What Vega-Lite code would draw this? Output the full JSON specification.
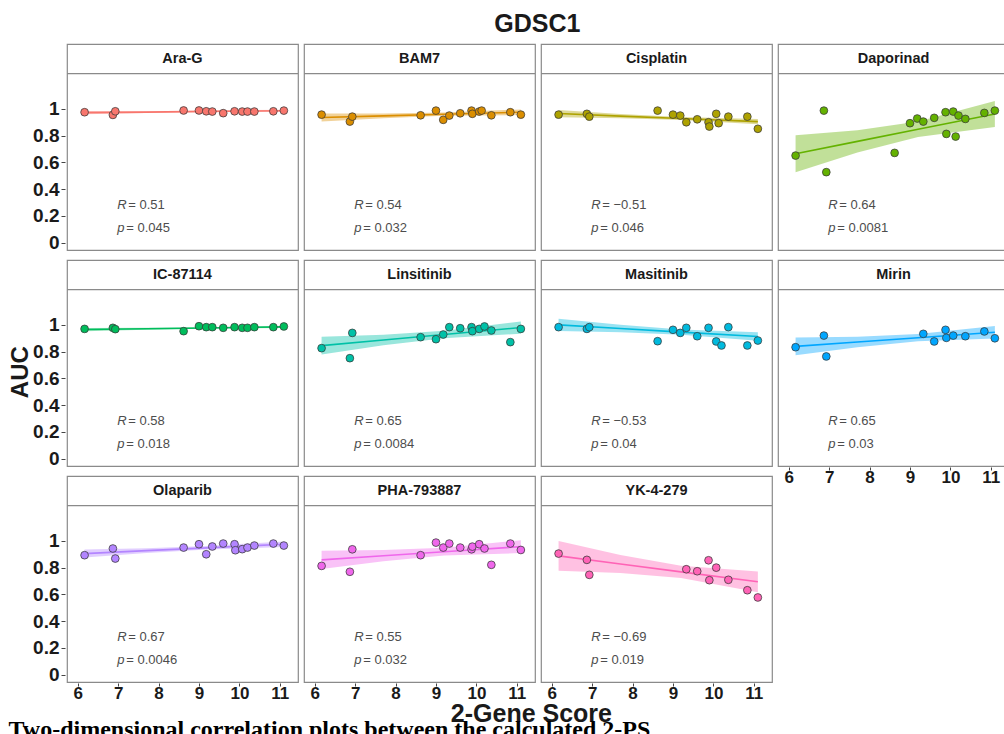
{
  "$schema": "https://vega.github.io/schema/vega-lite/v6.json",
  "background": "white",
  "padding": {"left": 8, "top": 12, "right": 0, "bottom": 0},
  "config": {
    "font": "Liberation Sans",
    "view": {"stroke": "#8a8a8a", "strokeWidth": 1.2},
    "axis": {"grid": false, "domain": false, "tickColor": "#444", "tickSize": 4, "labelFont": "Liberation Sans", "labelFontWeight": "bold", "labelColor": "#1a1a1a", "labelPadding": 2},
    "axisX": {"labelFontSize": 17, "tickSize": 3, "labelPadding": -1},
    "axisY": {"labelFontSize": 19},
    "concat": {"spacing": 6}
  },
  "datasets": {
    "d": [
      {"drug": "Ara-G", "kind": "pt", "score": 6.17, "auc": 0.975},
      {"drug": "Ara-G", "kind": "pt", "score": 6.87, "auc": 0.955},
      {"drug": "Ara-G", "kind": "pt", "score": 6.93, "auc": 0.982},
      {"drug": "Ara-G", "kind": "pt", "score": 8.62, "auc": 0.988},
      {"drug": "Ara-G", "kind": "pt", "score": 9.0, "auc": 0.988},
      {"drug": "Ara-G", "kind": "pt", "score": 9.18, "auc": 0.982},
      {"drug": "Ara-G", "kind": "pt", "score": 9.33, "auc": 0.98},
      {"drug": "Ara-G", "kind": "pt", "score": 9.6, "auc": 0.968},
      {"drug": "Ara-G", "kind": "pt", "score": 9.88, "auc": 0.982},
      {"drug": "Ara-G", "kind": "pt", "score": 10.07, "auc": 0.98},
      {"drug": "Ara-G", "kind": "pt", "score": 10.2, "auc": 0.98},
      {"drug": "Ara-G", "kind": "pt", "score": 10.37, "auc": 0.98},
      {"drug": "Ara-G", "kind": "pt", "score": 10.84, "auc": 0.982},
      {"drug": "Ara-G", "kind": "pt", "score": 11.1, "auc": 0.987},
      {"drug": "BAM7", "kind": "pt", "score": 6.17, "auc": 0.957},
      {"drug": "BAM7", "kind": "pt", "score": 6.87, "auc": 0.905},
      {"drug": "BAM7", "kind": "pt", "score": 6.93, "auc": 0.942},
      {"drug": "BAM7", "kind": "pt", "score": 8.62, "auc": 0.952},
      {"drug": "BAM7", "kind": "pt", "score": 9.0, "auc": 0.987},
      {"drug": "BAM7", "kind": "pt", "score": 9.18, "auc": 0.918},
      {"drug": "BAM7", "kind": "pt", "score": 9.33, "auc": 0.95},
      {"drug": "BAM7", "kind": "pt", "score": 9.6, "auc": 0.967},
      {"drug": "BAM7", "kind": "pt", "score": 9.88, "auc": 0.987},
      {"drug": "BAM7", "kind": "pt", "score": 9.9, "auc": 0.963},
      {"drug": "BAM7", "kind": "pt", "score": 10.07, "auc": 0.98},
      {"drug": "BAM7", "kind": "pt", "score": 10.13, "auc": 0.987},
      {"drug": "BAM7", "kind": "pt", "score": 10.37, "auc": 0.952},
      {"drug": "BAM7", "kind": "pt", "score": 10.84, "auc": 0.975},
      {"drug": "BAM7", "kind": "pt", "score": 11.1, "auc": 0.957},
      {"drug": "Cisplatin", "kind": "pt", "score": 6.17, "auc": 0.957},
      {"drug": "Cisplatin", "kind": "pt", "score": 6.87, "auc": 0.963},
      {"drug": "Cisplatin", "kind": "pt", "score": 6.93, "auc": 0.942},
      {"drug": "Cisplatin", "kind": "pt", "score": 8.62, "auc": 0.987},
      {"drug": "Cisplatin", "kind": "pt", "score": 9.0, "auc": 0.957},
      {"drug": "Cisplatin", "kind": "pt", "score": 9.18, "auc": 0.95},
      {"drug": "Cisplatin", "kind": "pt", "score": 9.33, "auc": 0.9},
      {"drug": "Cisplatin", "kind": "pt", "score": 9.6, "auc": 0.922},
      {"drug": "Cisplatin", "kind": "pt", "score": 9.88, "auc": 0.9},
      {"drug": "Cisplatin", "kind": "pt", "score": 9.9, "auc": 0.868},
      {"drug": "Cisplatin", "kind": "pt", "score": 10.07, "auc": 0.963},
      {"drug": "Cisplatin", "kind": "pt", "score": 10.13, "auc": 0.893},
      {"drug": "Cisplatin", "kind": "pt", "score": 10.37, "auc": 0.942},
      {"drug": "Cisplatin", "kind": "pt", "score": 10.84, "auc": 0.942},
      {"drug": "Cisplatin", "kind": "pt", "score": 11.1, "auc": 0.851},
      {"drug": "Daporinad", "kind": "pt", "score": 6.17, "auc": 0.651},
      {"drug": "Daporinad", "kind": "pt", "score": 6.87, "auc": 0.987},
      {"drug": "Daporinad", "kind": "pt", "score": 6.93, "auc": 0.527},
      {"drug": "Daporinad", "kind": "pt", "score": 8.62, "auc": 0.671},
      {"drug": "Daporinad", "kind": "pt", "score": 9.0, "auc": 0.893},
      {"drug": "Daporinad", "kind": "pt", "score": 9.18, "auc": 0.928},
      {"drug": "Daporinad", "kind": "pt", "score": 9.33, "auc": 0.905},
      {"drug": "Daporinad", "kind": "pt", "score": 9.6, "auc": 0.933},
      {"drug": "Daporinad", "kind": "pt", "score": 9.88, "auc": 0.975},
      {"drug": "Daporinad", "kind": "pt", "score": 9.9, "auc": 0.813},
      {"drug": "Daporinad", "kind": "pt", "score": 10.07, "auc": 0.98},
      {"drug": "Daporinad", "kind": "pt", "score": 10.13, "auc": 0.793},
      {"drug": "Daporinad", "kind": "pt", "score": 10.2, "auc": 0.95},
      {"drug": "Daporinad", "kind": "pt", "score": 10.37, "auc": 0.925},
      {"drug": "Daporinad", "kind": "pt", "score": 10.84, "auc": 0.97},
      {"drug": "Daporinad", "kind": "pt", "score": 11.1, "auc": 0.987},
      {"drug": "IC-87114", "kind": "pt", "score": 6.17, "auc": 0.97},
      {"drug": "IC-87114", "kind": "pt", "score": 6.87, "auc": 0.978},
      {"drug": "IC-87114", "kind": "pt", "score": 6.93, "auc": 0.968},
      {"drug": "IC-87114", "kind": "pt", "score": 8.62, "auc": 0.953},
      {"drug": "IC-87114", "kind": "pt", "score": 9.0, "auc": 0.99},
      {"drug": "IC-87114", "kind": "pt", "score": 9.18, "auc": 0.983},
      {"drug": "IC-87114", "kind": "pt", "score": 9.33, "auc": 0.983},
      {"drug": "IC-87114", "kind": "pt", "score": 9.6, "auc": 0.978},
      {"drug": "IC-87114", "kind": "pt", "score": 9.88, "auc": 0.983},
      {"drug": "IC-87114", "kind": "pt", "score": 10.07, "auc": 0.978},
      {"drug": "IC-87114", "kind": "pt", "score": 10.2, "auc": 0.978},
      {"drug": "IC-87114", "kind": "pt", "score": 10.37, "auc": 0.983},
      {"drug": "IC-87114", "kind": "pt", "score": 10.84, "auc": 0.983},
      {"drug": "IC-87114", "kind": "pt", "score": 11.1, "auc": 0.988},
      {"drug": "Linsitinib", "kind": "pt", "score": 6.17, "auc": 0.826},
      {"drug": "Linsitinib", "kind": "pt", "score": 6.87, "auc": 0.751},
      {"drug": "Linsitinib", "kind": "pt", "score": 6.93, "auc": 0.94},
      {"drug": "Linsitinib", "kind": "pt", "score": 8.62, "auc": 0.908},
      {"drug": "Linsitinib", "kind": "pt", "score": 9.0, "auc": 0.893},
      {"drug": "Linsitinib", "kind": "pt", "score": 9.18, "auc": 0.928},
      {"drug": "Linsitinib", "kind": "pt", "score": 9.33, "auc": 0.983},
      {"drug": "Linsitinib", "kind": "pt", "score": 9.6, "auc": 0.975},
      {"drug": "Linsitinib", "kind": "pt", "score": 9.88, "auc": 0.983},
      {"drug": "Linsitinib", "kind": "pt", "score": 9.9, "auc": 0.953},
      {"drug": "Linsitinib", "kind": "pt", "score": 10.07, "auc": 0.97},
      {"drug": "Linsitinib", "kind": "pt", "score": 10.2, "auc": 0.988},
      {"drug": "Linsitinib", "kind": "pt", "score": 10.37, "auc": 0.958},
      {"drug": "Linsitinib", "kind": "pt", "score": 10.84, "auc": 0.871},
      {"drug": "Linsitinib", "kind": "pt", "score": 11.1, "auc": 0.97},
      {"drug": "Masitinib", "kind": "pt", "score": 6.17, "auc": 0.983},
      {"drug": "Masitinib", "kind": "pt", "score": 6.87, "auc": 0.97},
      {"drug": "Masitinib", "kind": "pt", "score": 6.93, "auc": 0.983},
      {"drug": "Masitinib", "kind": "pt", "score": 8.62, "auc": 0.878},
      {"drug": "Masitinib", "kind": "pt", "score": 9.0, "auc": 0.963},
      {"drug": "Masitinib", "kind": "pt", "score": 9.18, "auc": 0.94},
      {"drug": "Masitinib", "kind": "pt", "score": 9.33, "auc": 0.978},
      {"drug": "Masitinib", "kind": "pt", "score": 9.6, "auc": 0.915},
      {"drug": "Masitinib", "kind": "pt", "score": 9.88, "auc": 0.978},
      {"drug": "Masitinib", "kind": "pt", "score": 10.07, "auc": 0.876},
      {"drug": "Masitinib", "kind": "pt", "score": 10.2, "auc": 0.846},
      {"drug": "Masitinib", "kind": "pt", "score": 10.37, "auc": 0.983},
      {"drug": "Masitinib", "kind": "pt", "score": 10.84, "auc": 0.846},
      {"drug": "Masitinib", "kind": "pt", "score": 11.1, "auc": 0.883},
      {"drug": "Mirin", "kind": "pt", "score": 6.17, "auc": 0.833},
      {"drug": "Mirin", "kind": "pt", "score": 6.87, "auc": 0.92},
      {"drug": "Mirin", "kind": "pt", "score": 6.93, "auc": 0.764},
      {"drug": "Mirin", "kind": "pt", "score": 9.33, "auc": 0.933},
      {"drug": "Mirin", "kind": "pt", "score": 9.6, "auc": 0.876},
      {"drug": "Mirin", "kind": "pt", "score": 9.88, "auc": 0.963},
      {"drug": "Mirin", "kind": "pt", "score": 9.9, "auc": 0.903},
      {"drug": "Mirin", "kind": "pt", "score": 10.07, "auc": 0.92},
      {"drug": "Mirin", "kind": "pt", "score": 10.37, "auc": 0.915},
      {"drug": "Mirin", "kind": "pt", "score": 10.84, "auc": 0.951},
      {"drug": "Mirin", "kind": "pt", "score": 11.1, "auc": 0.9},
      {"drug": "Olaparib", "kind": "pt", "score": 6.17, "auc": 0.893},
      {"drug": "Olaparib", "kind": "pt", "score": 6.87, "auc": 0.943},
      {"drug": "Olaparib", "kind": "pt", "score": 6.93, "auc": 0.868},
      {"drug": "Olaparib", "kind": "pt", "score": 8.62, "auc": 0.95},
      {"drug": "Olaparib", "kind": "pt", "score": 9.0, "auc": 0.975},
      {"drug": "Olaparib", "kind": "pt", "score": 9.18, "auc": 0.9},
      {"drug": "Olaparib", "kind": "pt", "score": 9.33, "auc": 0.958},
      {"drug": "Olaparib", "kind": "pt", "score": 9.6, "auc": 0.98},
      {"drug": "Olaparib", "kind": "pt", "score": 9.88, "auc": 0.975},
      {"drug": "Olaparib", "kind": "pt", "score": 9.9, "auc": 0.93},
      {"drug": "Olaparib", "kind": "pt", "score": 10.07, "auc": 0.938},
      {"drug": "Olaparib", "kind": "pt", "score": 10.2, "auc": 0.95},
      {"drug": "Olaparib", "kind": "pt", "score": 10.37, "auc": 0.965},
      {"drug": "Olaparib", "kind": "pt", "score": 10.84, "auc": 0.98},
      {"drug": "Olaparib", "kind": "pt", "score": 11.1, "auc": 0.965},
      {"drug": "PHA-793887", "kind": "pt", "score": 6.17, "auc": 0.813},
      {"drug": "PHA-793887", "kind": "pt", "score": 6.87, "auc": 0.769},
      {"drug": "PHA-793887", "kind": "pt", "score": 6.93, "auc": 0.937},
      {"drug": "PHA-793887", "kind": "pt", "score": 8.62, "auc": 0.893},
      {"drug": "PHA-793887", "kind": "pt", "score": 9.0, "auc": 0.987},
      {"drug": "PHA-793887", "kind": "pt", "score": 9.18, "auc": 0.95},
      {"drug": "PHA-793887", "kind": "pt", "score": 9.33, "auc": 0.98},
      {"drug": "PHA-793887", "kind": "pt", "score": 9.6, "auc": 0.95},
      {"drug": "PHA-793887", "kind": "pt", "score": 9.88, "auc": 0.937},
      {"drug": "PHA-793887", "kind": "pt", "score": 9.9, "auc": 0.957},
      {"drug": "PHA-793887", "kind": "pt", "score": 10.07, "auc": 0.975},
      {"drug": "PHA-793887", "kind": "pt", "score": 10.2, "auc": 0.943},
      {"drug": "PHA-793887", "kind": "pt", "score": 10.37, "auc": 0.821},
      {"drug": "PHA-793887", "kind": "pt", "score": 10.84, "auc": 0.98},
      {"drug": "PHA-793887", "kind": "pt", "score": 11.1, "auc": 0.932},
      {"drug": "YK-4-279", "kind": "pt", "score": 6.17, "auc": 0.905},
      {"drug": "YK-4-279", "kind": "pt", "score": 6.87, "auc": 0.858},
      {"drug": "YK-4-279", "kind": "pt", "score": 6.93, "auc": 0.746},
      {"drug": "YK-4-279", "kind": "pt", "score": 9.33, "auc": 0.788},
      {"drug": "YK-4-279", "kind": "pt", "score": 9.6, "auc": 0.773},
      {"drug": "YK-4-279", "kind": "pt", "score": 9.88, "auc": 0.855},
      {"drug": "YK-4-279", "kind": "pt", "score": 9.9, "auc": 0.706},
      {"drug": "YK-4-279", "kind": "pt", "score": 10.07, "auc": 0.8},
      {"drug": "YK-4-279", "kind": "pt", "score": 10.37, "auc": 0.709},
      {"drug": "YK-4-279", "kind": "pt", "score": 10.84, "auc": 0.631},
      {"drug": "YK-4-279", "kind": "pt", "score": 11.1, "auc": 0.577},
      {"drug": "Ara-G", "kind": "band", "bx": 6.17, "lo": 0.960, "hi": 0.984, "fit": 0.972},
      {"drug": "Ara-G", "kind": "band", "bx": 7.7, "lo": 0.969, "hi": 0.983, "fit": 0.976},
      {"drug": "Ara-G", "kind": "band", "bx": 9.2, "lo": 0.976, "hi": 0.986, "fit": 0.981},
      {"drug": "Ara-G", "kind": "band", "bx": 11.1, "lo": 0.978, "hi": 0.994, "fit": 0.986},
      {"drug": "BAM7", "kind": "band", "bx": 6.17, "lo": 0.905, "hi": 0.965, "fit": 0.935},
      {"drug": "BAM7", "kind": "band", "bx": 7.7, "lo": 0.930, "hi": 0.966, "fit": 0.948},
      {"drug": "BAM7", "kind": "band", "bx": 9.2, "lo": 0.948, "hi": 0.973, "fit": 0.960},
      {"drug": "BAM7", "kind": "band", "bx": 11.1, "lo": 0.954, "hi": 0.996, "fit": 0.975},
      {"drug": "Cisplatin", "kind": "band", "bx": 6.17, "lo": 0.938, "hi": 0.992, "fit": 0.965},
      {"drug": "Cisplatin", "kind": "band", "bx": 7.7, "lo": 0.930, "hi": 0.962, "fit": 0.946},
      {"drug": "Cisplatin", "kind": "band", "bx": 9.2, "lo": 0.917, "hi": 0.939, "fit": 0.928},
      {"drug": "Cisplatin", "kind": "band", "bx": 11.1, "lo": 0.886, "hi": 0.924, "fit": 0.905},
      {"drug": "Daporinad", "kind": "band", "bx": 6.17, "lo": 0.526, "hi": 0.802, "fit": 0.664},
      {"drug": "Daporinad", "kind": "band", "bx": 7.7, "lo": 0.673, "hi": 0.841, "fit": 0.757},
      {"drug": "Daporinad", "kind": "band", "bx": 9.2, "lo": 0.790, "hi": 0.906, "fit": 0.848},
      {"drug": "Daporinad", "kind": "band", "bx": 11.1, "lo": 0.865, "hi": 1.059, "fit": 0.962},
      {"drug": "IC-87114", "kind": "band", "bx": 6.17, "lo": 0.953, "hi": 0.977, "fit": 0.965},
      {"drug": "IC-87114", "kind": "band", "bx": 7.7, "lo": 0.964, "hi": 0.978, "fit": 0.971},
      {"drug": "IC-87114", "kind": "band", "bx": 9.2, "lo": 0.972, "hi": 0.982, "fit": 0.977},
      {"drug": "IC-87114", "kind": "band", "bx": 11.1, "lo": 0.977, "hi": 0.993, "fit": 0.985},
      {"drug": "Linsitinib", "kind": "band", "bx": 6.17, "lo": 0.779, "hi": 0.911, "fit": 0.845},
      {"drug": "Linsitinib", "kind": "band", "bx": 7.7, "lo": 0.847, "hi": 0.927, "fit": 0.887},
      {"drug": "Linsitinib", "kind": "band", "bx": 9.2, "lo": 0.900, "hi": 0.956, "fit": 0.928},
      {"drug": "Linsitinib", "kind": "band", "bx": 11.1, "lo": 0.934, "hi": 1.026, "fit": 0.98},
      {"drug": "Masitinib", "kind": "band", "bx": 6.17, "lo": 0.954, "hi": 1.046, "fit": 1.0},
      {"drug": "Masitinib", "kind": "band", "bx": 7.7, "lo": 0.945, "hi": 1.001, "fit": 0.973},
      {"drug": "Masitinib", "kind": "band", "bx": 9.2, "lo": 0.927, "hi": 0.965, "fit": 0.946},
      {"drug": "Masitinib", "kind": "band", "bx": 11.1, "lo": 0.881, "hi": 0.945, "fit": 0.913},
      {"drug": "Mirin", "kind": "band", "bx": 6.17, "lo": 0.773, "hi": 0.905, "fit": 0.839},
      {"drug": "Mirin", "kind": "band", "bx": 7.7, "lo": 0.832, "hi": 0.912, "fit": 0.872},
      {"drug": "Mirin", "kind": "band", "bx": 9.2, "lo": 0.877, "hi": 0.932, "fit": 0.904},
      {"drug": "Mirin", "kind": "band", "bx": 11.1, "lo": 0.899, "hi": 0.991, "fit": 0.945},
      {"drug": "Olaparib", "kind": "band", "bx": 6.17, "lo": 0.875, "hi": 0.935, "fit": 0.905},
      {"drug": "Olaparib", "kind": "band", "bx": 7.7, "lo": 0.909, "hi": 0.945, "fit": 0.927},
      {"drug": "Olaparib", "kind": "band", "bx": 9.2, "lo": 0.936, "hi": 0.961, "fit": 0.948},
      {"drug": "Olaparib", "kind": "band", "bx": 11.1, "lo": 0.954, "hi": 0.996, "fit": 0.975},
      {"drug": "PHA-793887", "kind": "band", "bx": 6.17, "lo": 0.789, "hi": 0.927, "fit": 0.858},
      {"drug": "PHA-793887", "kind": "band", "bx": 7.7, "lo": 0.847, "hi": 0.931, "fit": 0.889},
      {"drug": "PHA-793887", "kind": "band", "bx": 9.2, "lo": 0.890, "hi": 0.948, "fit": 0.919},
      {"drug": "PHA-793887", "kind": "band", "bx": 11.1, "lo": 0.909, "hi": 1.005, "fit": 0.957},
      {"drug": "YK-4-279", "kind": "band", "bx": 6.17, "lo": 0.777, "hi": 0.999, "fit": 0.888},
      {"drug": "YK-4-279", "kind": "band", "bx": 7.7, "lo": 0.759, "hi": 0.895, "fit": 0.827},
      {"drug": "YK-4-279", "kind": "band", "bx": 9.2, "lo": 0.722, "hi": 0.814, "fit": 0.768},
      {"drug": "YK-4-279", "kind": "band", "bx": 11.1, "lo": 0.616, "hi": 0.772, "fit": 0.694},
      {"drug": "Ara-G", "kind": "stat", "rlab": "= 0.51", "plab": "= 0.045"},
      {"drug": "BAM7", "kind": "stat", "rlab": "= 0.54", "plab": "= 0.032"},
      {"drug": "Cisplatin", "kind": "stat", "rlab": "= −0.51", "plab": "= 0.046"},
      {"drug": "Daporinad", "kind": "stat", "rlab": "= 0.64", "plab": "= 0.0081"},
      {"drug": "IC-87114", "kind": "stat", "rlab": "= 0.58", "plab": "= 0.018"},
      {"drug": "Linsitinib", "kind": "stat", "rlab": "= 0.65", "plab": "= 0.0084"},
      {"drug": "Masitinib", "kind": "stat", "rlab": "= −0.53", "plab": "= 0.04"},
      {"drug": "Mirin", "kind": "stat", "rlab": "= 0.65", "plab": "= 0.03"},
      {"drug": "Olaparib", "kind": "stat", "rlab": "= 0.67", "plab": "= 0.0046"},
      {"drug": "PHA-793887", "kind": "stat", "rlab": "= 0.55", "plab": "= 0.032"},
      {"drug": "YK-4-279", "kind": "stat", "rlab": "= −0.69", "plab": "= 0.019"}
    ]
  },
  "title": {"text": "GDSC1", "fontSize": 25, "fontWeight": "bold", "font": "Liberation Sans", "color": "#1a1a1a", "anchor": "middle", "offset": 6, "dx": 28},
  "vconcat": [
    {
      "title": {"text": "Two-dimensional correlation plots between the calculated 2-PS", "orient": "bottom", "anchor": "start", "font": "Liberation Serif", "fontSize": 24, "fontWeight": "bold", "color": "#000000", "offset": -9},
      "vconcat": [
        {
          "title": {"text": "2-Gene Score", "orient": "bottom", "anchor": "middle", "fontSize": 25, "fontWeight": "bold", "font": "Liberation Sans", "color": "#1a1a1a", "offset": 1, "dx": 22},
          "vconcat": [
            {
              "title": {"text": "AUC", "orient": "left", "anchor": "middle", "fontSize": 24, "fontWeight": "bold", "font": "Liberation Sans", "color": "#1a1a1a", "offset": 0},
              "spacing": 2,
              "hconcat": [
                {
                  "data": {"name": "d"},
                  "transform": [{"filter": {"field": "drug", "oneOf": ["Ara-G", "IC-87114", "Olaparib"]}}],
                  "spacing": 8,
                  "facet": {"row": {"field": "drug", "type": "nominal", "sort": ["Ara-G", "IC-87114", "Olaparib"], "header": null}},
                  "spec": {
                    "width": 231, "height": 206,
                    "layer": [
                      {"transform": [{"filter": "datum.kind === 'band'"}], "mark": {"type": "area", "opacity": 0.4},
                       "encoding": {
                         "x": {"field": "bx", "type": "quantitative", "scale": {"domain": [5.735, 11.45], "nice": false, "zero": false}, "axis": {"values": [6, 7, 8, 9, 10, 11], "format": "d", "title": null}},
                         "y": {"field": "lo", "type": "quantitative", "scale": {"domain": [-0.055, 1.485], "nice": false, "zero": false}, "axis": {"values": [0, 0.2, 0.4, 0.6, 0.8, 1], "format": "~g", "title": null}},
                         "y2": {"field": "hi"},
                         "color": {"field": "drug", "type": "nominal", "scale": {"domain": ["Ara-G", "BAM7", "Cisplatin", "Daporinad", "IC-87114", "Linsitinib", "Masitinib", "Mirin", "Olaparib", "PHA-793887", "YK-4-279"], "range": ["#F8766D", "#DB8E00", "#AEA200", "#64B200", "#00BD5C", "#00C1A7", "#00BADE", "#00A6FF", "#B385FF", "#EF67EB", "#FF63B6"]}, "legend": null}}},
                      {"transform": [{"filter": "datum.kind === 'band'"}], "mark": {"type": "line", "strokeWidth": 1.6},
                       "encoding": {"x": {"field": "bx", "type": "quantitative"}, "y": {"field": "fit", "type": "quantitative"}, "color": {"field": "drug", "type": "nominal", "legend": null}}},
                      {"transform": [{"filter": "datum.kind === 'pt'"}], "mark": {"type": "point", "filled": true, "shape": "circle", "size": 60, "opacity": 1, "stroke": "#3a3a3a", "strokeWidth": 0.9, "strokeOpacity": 0.85},
                       "encoding": {"x": {"field": "score", "type": "quantitative"}, "y": {"field": "auc", "type": "quantitative"}, "fill": {"field": "drug", "type": "nominal", "scale": {"domain": ["Ara-G", "BAM7", "Cisplatin", "Daporinad", "IC-87114", "Linsitinib", "Masitinib", "Mirin", "Olaparib", "PHA-793887", "YK-4-279"], "range": ["#F8766D", "#DB8E00", "#AEA200", "#64B200", "#00BD5C", "#00C1A7", "#00BADE", "#00A6FF", "#B385FF", "#EF67EB", "#FF63B6"]}, "legend": null}}},
                      {"transform": [{"filter": "datum.kind === 'stat'"}], "mark": {"type": "rule", "color": "#8a8a8a", "strokeWidth": 1.2}, "encoding": {"y": {"datum": 1.263}}},
                      {"transform": [{"filter": "datum.kind === 'stat'"}], "mark": {"type": "text", "fontSize": 14.5, "fontWeight": "bold", "color": "#1a1a1a", "baseline": "middle", "align": "center"}, "encoding": {"y": {"datum": 1.375}, "text": {"field": "drug"}}},
                      {"transform": [{"filter": "datum.kind === 'stat'"}], "mark": {"type": "text", "fontSize": 13, "fontStyle": "italic", "color": "#4d4d4d", "baseline": "middle", "align": "left"}, "encoding": {"x": {"datum": 6.98}, "y": {"datum": 0.28}, "text": {"value": "R"}}},
                      {"transform": [{"filter": "datum.kind === 'stat'"}], "mark": {"type": "text", "fontSize": 13, "color": "#4d4d4d", "baseline": "middle", "align": "left", "dx": 11}, "encoding": {"x": {"datum": 6.98}, "y": {"datum": 0.28}, "text": {"field": "rlab"}}},
                      {"transform": [{"filter": "datum.kind === 'stat'"}], "mark": {"type": "text", "fontSize": 13, "fontStyle": "italic", "color": "#4d4d4d", "baseline": "middle", "align": "left"}, "encoding": {"x": {"datum": 6.98}, "y": {"datum": 0.107}, "text": {"value": "p"}}},
                      {"transform": [{"filter": "datum.kind === 'stat'"}], "mark": {"type": "text", "fontSize": 13, "color": "#4d4d4d", "baseline": "middle", "align": "left", "dx": 9}, "encoding": {"x": {"datum": 6.98}, "y": {"datum": 0.107}, "text": {"field": "plab"}}}
                    ]
                  }
                },
                {
                  "data": {"name": "d"},
                  "transform": [{"filter": {"field": "drug", "oneOf": ["BAM7", "Linsitinib", "PHA-793887"]}}],
                  "spacing": 8,
                  "facet": {"row": {"field": "drug", "type": "nominal", "sort": ["BAM7", "Linsitinib", "PHA-793887"], "header": null}},
                  "spec": {
                    "width": 231, "height": 206,
                    "layer": [
                      {"transform": [{"filter": "datum.kind === 'band'"}], "mark": {"type": "area", "opacity": 0.4},
                       "encoding": {
                         "x": {"field": "bx", "type": "quantitative", "scale": {"domain": [5.735, 11.45], "nice": false, "zero": false}, "axis": {"values": [6, 7, 8, 9, 10, 11], "format": "d", "title": null}},
                         "y": {"field": "lo", "type": "quantitative", "scale": {"domain": [-0.055, 1.485], "nice": false, "zero": false}, "axis": null},
                         "y2": {"field": "hi"},
                         "color": {"field": "drug", "type": "nominal", "scale": {"domain": ["Ara-G", "BAM7", "Cisplatin", "Daporinad", "IC-87114", "Linsitinib", "Masitinib", "Mirin", "Olaparib", "PHA-793887", "YK-4-279"], "range": ["#F8766D", "#DB8E00", "#AEA200", "#64B200", "#00BD5C", "#00C1A7", "#00BADE", "#00A6FF", "#B385FF", "#EF67EB", "#FF63B6"]}, "legend": null}}},
                      {"transform": [{"filter": "datum.kind === 'band'"}], "mark": {"type": "line", "strokeWidth": 1.6},
                       "encoding": {"x": {"field": "bx", "type": "quantitative"}, "y": {"field": "fit", "type": "quantitative", "axis": null}, "color": {"field": "drug", "type": "nominal", "legend": null}}},
                      {"transform": [{"filter": "datum.kind === 'pt'"}], "mark": {"type": "point", "filled": true, "shape": "circle", "size": 60, "opacity": 1, "stroke": "#3a3a3a", "strokeWidth": 0.9, "strokeOpacity": 0.85},
                       "encoding": {"x": {"field": "score", "type": "quantitative"}, "y": {"field": "auc", "type": "quantitative", "axis": null}, "fill": {"field": "drug", "type": "nominal", "scale": {"domain": ["Ara-G", "BAM7", "Cisplatin", "Daporinad", "IC-87114", "Linsitinib", "Masitinib", "Mirin", "Olaparib", "PHA-793887", "YK-4-279"], "range": ["#F8766D", "#DB8E00", "#AEA200", "#64B200", "#00BD5C", "#00C1A7", "#00BADE", "#00A6FF", "#B385FF", "#EF67EB", "#FF63B6"]}, "legend": null}}},
                      {"transform": [{"filter": "datum.kind === 'stat'"}], "mark": {"type": "rule", "color": "#8a8a8a", "strokeWidth": 1.2}, "encoding": {"y": {"datum": 1.263, "axis": null}}},
                      {"transform": [{"filter": "datum.kind === 'stat'"}], "mark": {"type": "text", "fontSize": 14.5, "fontWeight": "bold", "color": "#1a1a1a", "baseline": "middle", "align": "center"}, "encoding": {"y": {"datum": 1.375, "axis": null}, "text": {"field": "drug"}}},
                      {"transform": [{"filter": "datum.kind === 'stat'"}], "mark": {"type": "text", "fontSize": 13, "fontStyle": "italic", "color": "#4d4d4d", "baseline": "middle", "align": "left"}, "encoding": {"x": {"datum": 6.98}, "y": {"datum": 0.28, "axis": null}, "text": {"value": "R"}}},
                      {"transform": [{"filter": "datum.kind === 'stat'"}], "mark": {"type": "text", "fontSize": 13, "color": "#4d4d4d", "baseline": "middle", "align": "left", "dx": 11}, "encoding": {"x": {"datum": 6.98}, "y": {"datum": 0.28, "axis": null}, "text": {"field": "rlab"}}},
                      {"transform": [{"filter": "datum.kind === 'stat'"}], "mark": {"type": "text", "fontSize": 13, "fontStyle": "italic", "color": "#4d4d4d", "baseline": "middle", "align": "left"}, "encoding": {"x": {"datum": 6.98}, "y": {"datum": 0.107, "axis": null}, "text": {"value": "p"}}},
                      {"transform": [{"filter": "datum.kind === 'stat'"}], "mark": {"type": "text", "fontSize": 13, "color": "#4d4d4d", "baseline": "middle", "align": "left", "dx": 9}, "encoding": {"x": {"datum": 6.98}, "y": {"datum": 0.107, "axis": null}, "text": {"field": "plab"}}}
                    ]
                  }
                },
                {
                  "data": {"name": "d"},
                  "transform": [{"filter": {"field": "drug", "oneOf": ["Cisplatin", "Masitinib", "YK-4-279"]}}],
                  "spacing": 8,
                  "facet": {"row": {"field": "drug", "type": "nominal", "sort": ["Cisplatin", "Masitinib", "YK-4-279"], "header": null}},
                  "spec": {
                    "width": 231, "height": 206,
                    "layer": [
                      {"transform": [{"filter": "datum.kind === 'band'"}], "mark": {"type": "area", "opacity": 0.4},
                       "encoding": {
                         "x": {"field": "bx", "type": "quantitative", "scale": {"domain": [5.735, 11.45], "nice": false, "zero": false}, "axis": {"values": [6, 7, 8, 9, 10, 11], "format": "d", "title": null}},
                         "y": {"field": "lo", "type": "quantitative", "scale": {"domain": [-0.055, 1.485], "nice": false, "zero": false}, "axis": null},
                         "y2": {"field": "hi"},
                         "color": {"field": "drug", "type": "nominal", "scale": {"domain": ["Ara-G", "BAM7", "Cisplatin", "Daporinad", "IC-87114", "Linsitinib", "Masitinib", "Mirin", "Olaparib", "PHA-793887", "YK-4-279"], "range": ["#F8766D", "#DB8E00", "#AEA200", "#64B200", "#00BD5C", "#00C1A7", "#00BADE", "#00A6FF", "#B385FF", "#EF67EB", "#FF63B6"]}, "legend": null}}},
                      {"transform": [{"filter": "datum.kind === 'band'"}], "mark": {"type": "line", "strokeWidth": 1.6},
                       "encoding": {"x": {"field": "bx", "type": "quantitative"}, "y": {"field": "fit", "type": "quantitative", "axis": null}, "color": {"field": "drug", "type": "nominal", "legend": null}}},
                      {"transform": [{"filter": "datum.kind === 'pt'"}], "mark": {"type": "point", "filled": true, "shape": "circle", "size": 60, "opacity": 1, "stroke": "#3a3a3a", "strokeWidth": 0.9, "strokeOpacity": 0.85},
                       "encoding": {"x": {"field": "score", "type": "quantitative"}, "y": {"field": "auc", "type": "quantitative", "axis": null}, "fill": {"field": "drug", "type": "nominal", "scale": {"domain": ["Ara-G", "BAM7", "Cisplatin", "Daporinad", "IC-87114", "Linsitinib", "Masitinib", "Mirin", "Olaparib", "PHA-793887", "YK-4-279"], "range": ["#F8766D", "#DB8E00", "#AEA200", "#64B200", "#00BD5C", "#00C1A7", "#00BADE", "#00A6FF", "#B385FF", "#EF67EB", "#FF63B6"]}, "legend": null}}},
                      {"transform": [{"filter": "datum.kind === 'stat'"}], "mark": {"type": "rule", "color": "#8a8a8a", "strokeWidth": 1.2}, "encoding": {"y": {"datum": 1.263, "axis": null}}},
                      {"transform": [{"filter": "datum.kind === 'stat'"}], "mark": {"type": "text", "fontSize": 14.5, "fontWeight": "bold", "color": "#1a1a1a", "baseline": "middle", "align": "center"}, "encoding": {"y": {"datum": 1.375, "axis": null}, "text": {"field": "drug"}}},
                      {"transform": [{"filter": "datum.kind === 'stat'"}], "mark": {"type": "text", "fontSize": 13, "fontStyle": "italic", "color": "#4d4d4d", "baseline": "middle", "align": "left"}, "encoding": {"x": {"datum": 6.98}, "y": {"datum": 0.28, "axis": null}, "text": {"value": "R"}}},
                      {"transform": [{"filter": "datum.kind === 'stat'"}], "mark": {"type": "text", "fontSize": 13, "color": "#4d4d4d", "baseline": "middle", "align": "left", "dx": 11}, "encoding": {"x": {"datum": 6.98}, "y": {"datum": 0.28, "axis": null}, "text": {"field": "rlab"}}},
                      {"transform": [{"filter": "datum.kind === 'stat'"}], "mark": {"type": "text", "fontSize": 13, "fontStyle": "italic", "color": "#4d4d4d", "baseline": "middle", "align": "left"}, "encoding": {"x": {"datum": 6.98}, "y": {"datum": 0.107, "axis": null}, "text": {"value": "p"}}},
                      {"transform": [{"filter": "datum.kind === 'stat'"}], "mark": {"type": "text", "fontSize": 13, "color": "#4d4d4d", "baseline": "middle", "align": "left", "dx": 9}, "encoding": {"x": {"datum": 6.98}, "y": {"datum": 0.107, "axis": null}, "text": {"field": "plab"}}}
                    ]
                  }
                },
                {
                  "data": {"name": "d"},
                  "transform": [{"filter": {"field": "drug", "oneOf": ["Daporinad", "Mirin"]}}],
                  "spacing": 8,
                  "facet": {"row": {"field": "drug", "type": "nominal", "sort": ["Daporinad", "Mirin"], "header": null}},
                  "spec": {
                    "width": 231, "height": 206,
                    "layer": [
                      {"transform": [{"filter": "datum.kind === 'band'"}], "mark": {"type": "area", "opacity": 0.4},
                       "encoding": {
                         "x": {"field": "bx", "type": "quantitative", "scale": {"domain": [5.735, 11.45], "nice": false, "zero": false}, "axis": {"values": [6, 7, 8, 9, 10, 11], "format": "d", "title": null}},
                         "y": {"field": "lo", "type": "quantitative", "scale": {"domain": [-0.055, 1.485], "nice": false, "zero": false}, "axis": null},
                         "y2": {"field": "hi"},
                         "color": {"field": "drug", "type": "nominal", "scale": {"domain": ["Ara-G", "BAM7", "Cisplatin", "Daporinad", "IC-87114", "Linsitinib", "Masitinib", "Mirin", "Olaparib", "PHA-793887", "YK-4-279"], "range": ["#F8766D", "#DB8E00", "#AEA200", "#64B200", "#00BD5C", "#00C1A7", "#00BADE", "#00A6FF", "#B385FF", "#EF67EB", "#FF63B6"]}, "legend": null}}},
                      {"transform": [{"filter": "datum.kind === 'band'"}], "mark": {"type": "line", "strokeWidth": 1.6},
                       "encoding": {"x": {"field": "bx", "type": "quantitative"}, "y": {"field": "fit", "type": "quantitative", "axis": null}, "color": {"field": "drug", "type": "nominal", "legend": null}}},
                      {"transform": [{"filter": "datum.kind === 'pt'"}], "mark": {"type": "point", "filled": true, "shape": "circle", "size": 60, "opacity": 1, "stroke": "#3a3a3a", "strokeWidth": 0.9, "strokeOpacity": 0.85},
                       "encoding": {"x": {"field": "score", "type": "quantitative"}, "y": {"field": "auc", "type": "quantitative", "axis": null}, "fill": {"field": "drug", "type": "nominal", "scale": {"domain": ["Ara-G", "BAM7", "Cisplatin", "Daporinad", "IC-87114", "Linsitinib", "Masitinib", "Mirin", "Olaparib", "PHA-793887", "YK-4-279"], "range": ["#F8766D", "#DB8E00", "#AEA200", "#64B200", "#00BD5C", "#00C1A7", "#00BADE", "#00A6FF", "#B385FF", "#EF67EB", "#FF63B6"]}, "legend": null}}},
                      {"transform": [{"filter": "datum.kind === 'stat'"}], "mark": {"type": "rule", "color": "#8a8a8a", "strokeWidth": 1.2}, "encoding": {"y": {"datum": 1.263, "axis": null}}},
                      {"transform": [{"filter": "datum.kind === 'stat'"}], "mark": {"type": "text", "fontSize": 14.5, "fontWeight": "bold", "color": "#1a1a1a", "baseline": "middle", "align": "center"}, "encoding": {"y": {"datum": 1.375, "axis": null}, "text": {"field": "drug"}}},
                      {"transform": [{"filter": "datum.kind === 'stat'"}], "mark": {"type": "text", "fontSize": 13, "fontStyle": "italic", "color": "#4d4d4d", "baseline": "middle", "align": "left"}, "encoding": {"x": {"datum": 6.98}, "y": {"datum": 0.28, "axis": null}, "text": {"value": "R"}}},
                      {"transform": [{"filter": "datum.kind === 'stat'"}], "mark": {"type": "text", "fontSize": 13, "color": "#4d4d4d", "baseline": "middle", "align": "left", "dx": 11}, "encoding": {"x": {"datum": 6.98}, "y": {"datum": 0.28, "axis": null}, "text": {"field": "rlab"}}},
                      {"transform": [{"filter": "datum.kind === 'stat'"}], "mark": {"type": "text", "fontSize": 13, "fontStyle": "italic", "color": "#4d4d4d", "baseline": "middle", "align": "left"}, "encoding": {"x": {"datum": 6.98}, "y": {"datum": 0.107, "axis": null}, "text": {"value": "p"}}},
                      {"transform": [{"filter": "datum.kind === 'stat'"}], "mark": {"type": "text", "fontSize": 13, "color": "#4d4d4d", "baseline": "middle", "align": "left", "dx": 9}, "encoding": {"x": {"datum": 6.98}, "y": {"datum": 0.107, "axis": null}, "text": {"field": "plab"}}}
                    ]
                  }
                }
              ]
            }
          ]
        }
      ]
    }
  ]
}
